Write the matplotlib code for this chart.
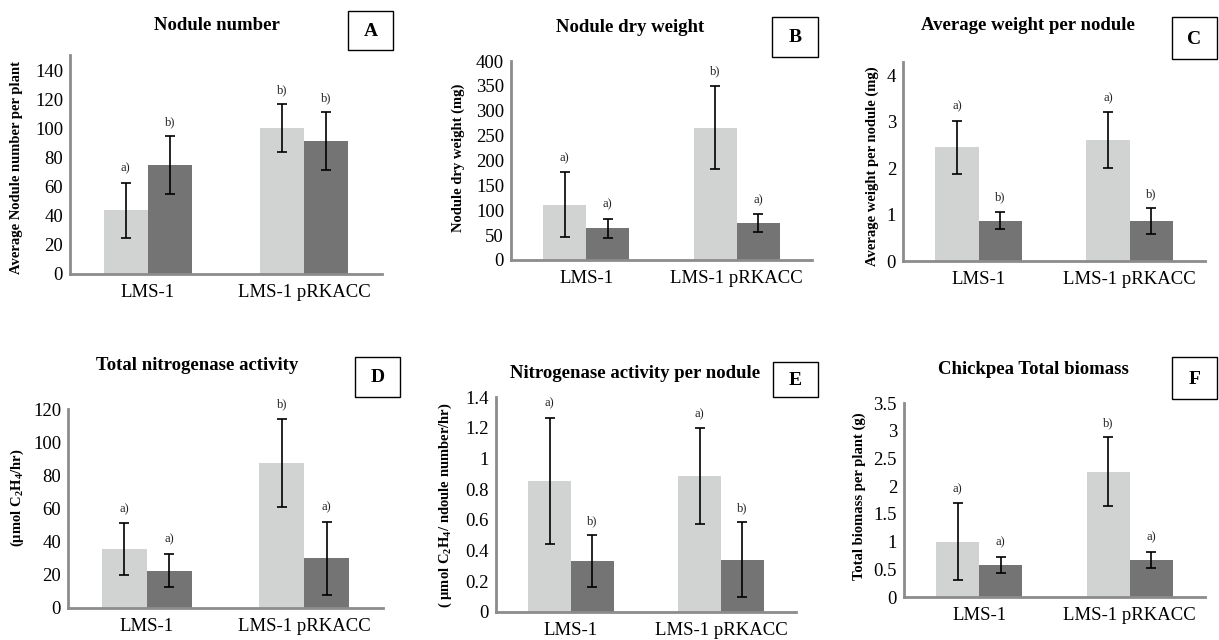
import matplotlib
matplotlib.use("Agg")
from matplotlib import pyplot as plt
from matplotlib.patches import Rectangle
import numpy as np

# Fonts: Times-like serif throughout
plt.rcParams["font.family"] = ["Liberation Serif", "DejaVu Serif"]
plt.rcParams["mathtext.fontset"] = "custom"
plt.rcParams["mathtext.rm"] = "Liberation Serif"
plt.rcParams["mathtext.bf"] = "Liberation Serif:bold"

# Data
strains = ["LMS-1", "LMS-1 pRKACC"]

# A - nodule number
nod_num_light = [44, 100.5]
nod_num_light_err = [19, 16.5]
nod_num_dark = [75, 91.5]
nod_num_dark_err = [20, 20]
nod_num_sig_light = ["a)", "b)"]
nod_num_sig_dark = ["b)", "b)"]

# B - nodule dry weight (mg)
dry_wt_light = [111, 266]
dry_wt_light_err = [65, 84]
dry_wt_dark = [64, 74]
dry_wt_dark_err = [19, 18]
dry_wt_sig_light = ["a)", "b)"]
dry_wt_sig_dark = ["a)", "a)"]

# C - average weight per nodule (mg)
avg_wt_light = [2.45, 2.6]
avg_wt_light_err = [0.57, 0.6]
avg_wt_dark = [0.87, 0.85]
avg_wt_dark_err = [0.19, 0.28]
avg_wt_sig_light = ["a)", "a)"]
avg_wt_sig_dark = ["b)", "b)"]

# D - total nitrogenase activity
tot_nit_light = [35.5, 87.5]
tot_nit_light_err = [15.5, 26.5]
tot_nit_dark = [22.5, 30]
tot_nit_dark_err = [10, 22]
tot_nit_sig_light = ["a)", "b)"]
tot_nit_sig_dark = ["a)", "a)"]

# E - nitrogenase activity per nodule
nit_nod_light = [0.855, 0.885]
nit_nod_light_err = [0.41, 0.31]
nit_nod_dark = [0.33, 0.34]
nit_nod_dark_err = [0.17, 0.245]
nit_nod_sig_light = ["a)", "a)"]
nit_nod_sig_dark = ["b)", "b)"]

# F - chickpea total biomass (g)
biomass_light = [1.0, 2.26]
biomass_light_err = [0.69, 0.62]
biomass_dark = [0.58, 0.67]
biomass_dark_err = [0.15, 0.14]
biomass_sig_light = ["a)", "b)"]
biomass_sig_dark = ["a)", "a)"]

W, H = 1219, 640
light_col = "#d1d3d2"
dark_col = "#747474"
spine_col = "#8c8c8c"

fig = plt.figure(figsize=(W / 100, H / 100), dpi=100)


def px_axes(left, right, top, bottom):
    # pixel box -> figure fraction axes
    return fig.add_axes([left / W, 1 - bottom / H, (right - left) / W, (bottom - top) / H])


def fig_text(x, y, s, **kw):
    fig.text(x / W, 1 - y / H, s, **kw)


def letter_box(x0, y0, x1, y1, letter):
    fig.patches.append(Rectangle((x0 / W, 1 - y1 / H), (x1 - x0) / W, (y1 - y0) / H,
                                 transform=fig.transFigure, fill=False, ec="black", lw=1.0))
    fig_text((x0 + x1) / 2, (y0 + y1) / 2 + 1, letter, ha="center", va="center",
             fontsize=14, fontweight="bold")


def draw_panel(box, ylim, ticks, ticklabels, light, light_err, dark, dark_err, sig_light, sig_dark):
    ax = px_axes(*box)
    x = np.arange(len(strains))
    w = 0.285
    ax.bar(x - w / 2, light, w, color=light_col, zorder=2)
    ax.bar(x + w / 2, dark, w, color=dark_col, zorder=2)
    ekw = dict(fmt="none", ecolor="black", elinewidth=1.2, capsize=3.5, capthick=1.2, zorder=3)
    ax.errorbar(x - w / 2, light, yerr=light_err, **ekw)
    ax.errorbar(x + w / 2, dark, yerr=dark_err, **ekw)
    for xi, m, e, s in zip(x - w / 2, light, light_err, sig_light):
        ax.annotate(s, (xi, m + e), xytext=(0, 6), textcoords="offset points",
                    ha="center", va="bottom", fontsize=9, color="#222222")
    for xi, m, e, s in zip(x + w / 2, dark, dark_err, sig_dark):
        ax.annotate(s, (xi, m + e), xytext=(0, 6), textcoords="offset points",
                    ha="center", va="bottom", fontsize=9, color="#222222")
    ax.set_xlim(-0.5, 1.5)
    ax.set_ylim(*ylim)
    ax.set_xticks(x)
    ax.set_xticklabels(strains, fontsize=13.5)
    ax.set_yticks(ticks)
    ax.set_yticklabels(ticklabels, fontsize=13.5)
    ax.tick_params(length=0, pad=5)
    ax.tick_params(axis="x", pad=7)
    for side in ["top", "right"]:
        ax.spines[side].set_visible(False)
    for side in ["left", "bottom"]:
        ax.spines[side].set_color(spine_col)
        ax.spines[side].set_linewidth(2)
    ax.set_facecolor("none")
    return ax


# A
draw_panel((70, 382, 55, 274), (0, 151), range(0, 141, 20), [str(v) for v in range(0, 141, 20)],
           nod_num_light, nod_num_light_err, nod_num_dark, nod_num_dark_err,
           nod_num_sig_light, nod_num_sig_dark)
fig_text(217, 26, "Nodule number", ha="center", va="center", fontsize=13.5, fontweight="bold")
fig_text(17, 167, "Average Nodule number per plant", ha="center", va="center",
         rotation=90, fontsize=10.5, fontweight="bold")
letter_box(348, 11, 393, 50, "A")

# B
draw_panel((511, 812, 61, 260), (0, 400), range(0, 401, 50), [str(v) for v in range(0, 401, 50)],
           dry_wt_light, dry_wt_light_err, dry_wt_dark, dry_wt_dark_err,
           dry_wt_sig_light, dry_wt_sig_dark)
fig_text(630, 28, "Nodule dry weight", ha="center", va="center", fontsize=13.5, fontweight="bold")
fig_text(458, 158, "Nodule dry weight (mg)", ha="center", va="center",
         rotation=90, fontsize=10.5, fontweight="bold")
letter_box(772, 17, 818, 57, "B")

# C
draw_panel((903, 1205, 62, 261), (0, 4.28), range(0, 5), [str(v) for v in range(0, 5)],
           avg_wt_light, avg_wt_light_err, avg_wt_dark, avg_wt_dark_err,
           avg_wt_sig_light, avg_wt_sig_dark)
fig_text(1028, 25, "Average weight per nodule", ha="center", va="center", fontsize=13.5, fontweight="bold")
fig_text(872, 166, "Average weight per nodule (mg)", ha="center", va="center",
         rotation=90, fontsize=10.5, fontweight="bold")
letter_box(1172, 17, 1217, 59, "C")

# D
draw_panel((68, 383, 409, 608), (0, 120), range(0, 121, 20), [str(v) for v in range(0, 121, 20)],
           tot_nit_light, tot_nit_light_err, tot_nit_dark, tot_nit_dark_err,
           tot_nit_sig_light, tot_nit_sig_dark)
fig_text(197, 365, "Total nitrogenase activity", ha="center", va="center", fontsize=13.5, fontweight="bold")
fig_text(17, 498, r"(μmol C$_\mathbf{2}$H$_\mathbf{4}$/hr)", ha="center", va="center",
         rotation=90, fontsize=10.5, fontweight="bold")
letter_box(355, 357, 400, 397, "D")

# E
e_ticks = [0, 0.2, 0.4, 0.6, 0.8, 1.0, 1.2, 1.4]
draw_panel((496, 796, 397, 612), (0, 1.4), e_ticks, ["0", "0.2", "0.4", "0.6", "0.8", "1", "1.2", "1.4"],
           nit_nod_light, nit_nod_light_err, nit_nod_dark, nit_nod_dark_err,
           nit_nod_sig_light, nit_nod_sig_dark)
fig_text(635, 373, "Nitrogenase activity per nodule", ha="center", va="center", fontsize=13.5, fontweight="bold")
fig_text(445, 505, r"( μmol C$_\mathbf{2}$H$_\mathbf{4}$/ ndoule number/hr)", ha="center", va="center",
         rotation=90, fontsize=10.5, fontweight="bold")
letter_box(773, 362, 818, 397, "E")

# F
f_ticks = [0, 0.5, 1.0, 1.5, 2.0, 2.5, 3.0, 3.5]
draw_panel((904, 1205, 403, 597), (0, 3.5), f_ticks, ["0", "0.5", "1", "1.5", "2", "2.5", "3", "3.5"],
           biomass_light, biomass_light_err, biomass_dark, biomass_dark_err,
           biomass_sig_light, biomass_sig_dark)
fig_text(1033, 369, "Chickpea Total biomass", ha="center", va="center", fontsize=13.5, fontweight="bold")
fig_text(859, 496, "Total biomass per plant (g)", ha="center", va="center",
         rotation=90, fontsize=10.5, fontweight="bold")
letter_box(1172, 357, 1217, 399, "F")

plt.savefig("out.png", dpi=100)
